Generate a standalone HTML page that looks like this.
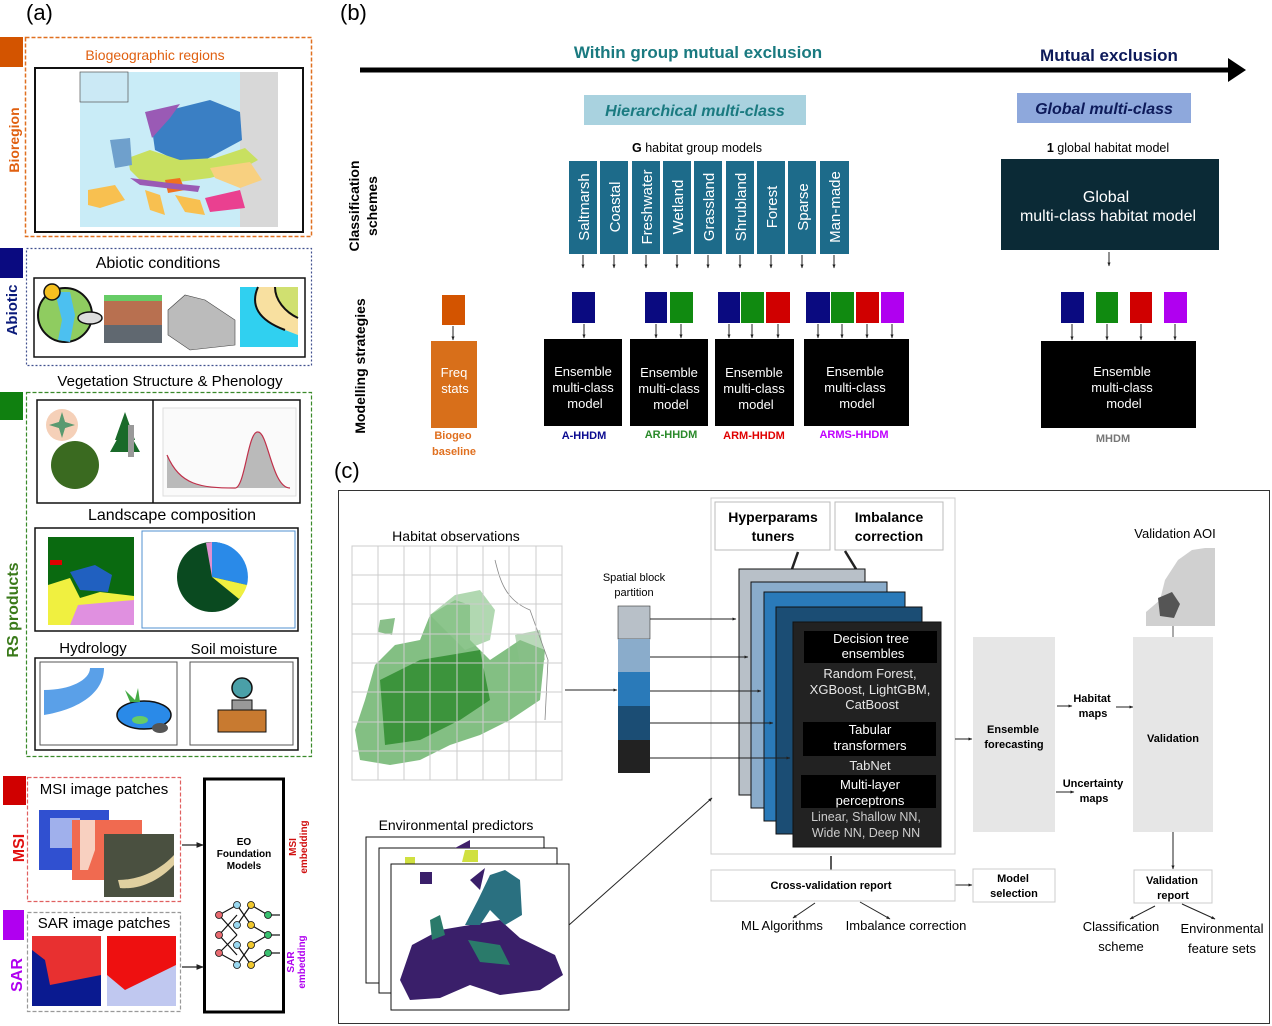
<!DOCTYPE html>
<html><head><meta charset="utf-8"><style>
html,body{margin:0;padding:0;background:#fff}
svg{display:block}
text{font-family:"Liberation Sans","DejaVu Sans",sans-serif}
</style></head><body>
<svg width="1272" height="1026" viewBox="0 0 1272 1026" xmlns="http://www.w3.org/2000/svg">
<defs>
<marker id="ar" viewBox="0 0 10 10" refX="9" refY="5" markerWidth="6" markerHeight="6" orient="auto"><path d="M0,1 L10,5 L0,9 z" fill="#222"/></marker>
<marker id="ar2" viewBox="0 0 10 10" refX="9" refY="5" markerWidth="4" markerHeight="4" orient="auto"><path d="M0,1 L10,5 L0,9 z" fill="#222"/></marker>
</defs>

<!-- ============ PANEL (a) ============ -->
<text x="26" y="20" font-size="22">(a)</text>
<rect x="0" y="37" width="23" height="30" fill="#d35400"/>
<rect x="25.5" y="37.5" width="286" height="199" fill="none" stroke="#e07020" stroke-width="1.5" stroke-dasharray="4,2"/>
<text x="155" y="60" font-size="14" fill="#e06010" text-anchor="middle">Biogeographic regions</text>
<rect x="35" y="68" width="268" height="164" fill="#fff" stroke="#111" stroke-width="2"/>
<rect x="80" y="72" width="198" height="155" fill="#c9ecf7"/>
<rect x="240" y="72" width="38" height="155" fill="#d8d8d8"/>
<rect x="80" y="72" width="48" height="30" fill="#cbe9f5" stroke="#555" stroke-width="0.7"/>
<path d="M150,115 L210,100 L240,112 L242,140 L205,160 L180,162 L155,150 Z" fill="#3a7fc4"/>
<path d="M145,112 L180,104 L170,118 L152,138 Z" fill="#9a5ab5"/>
<path d="M128,158 L150,150 L180,160 L215,158 L245,148 L258,160 L240,170 L210,178 L170,183 L140,180 L130,170 Z" fill="#c8e060"/>
<path d="M110,140 L130,138 L132,165 L115,168 Z" fill="#6fa0cc"/>
<path d="M210,168 L250,162 L262,180 L240,188 L215,178 Z" fill="#f8d080"/>
<path d="M165,180 L180,178 L185,190 L168,193 Z" fill="#f07020"/>
<path d="M205,198 L240,190 L245,208 L210,212 Z" fill="#ea4090"/>
<path d="M88,190 L115,185 L125,200 L100,208 L88,205 Z" fill="#f8c050"/>
<path d="M145,190 L160,195 L165,215 L150,210 Z" fill="#f8c050"/>
<path d="M175,195 L200,200 L205,215 L185,212 Z" fill="#f8c050"/>
<path d="M130,178 L170,183 L200,186 L198,192 L140,185 Z" fill="#9a5ab5"/>
<g transform="translate(19,140) rotate(-90)"><text font-size="14" font-weight="bold" fill="#e06010" text-anchor="middle">Bioregion</text></g>

<rect x="0" y="248" width="23" height="30" fill="#0a0a80"/>
<rect x="26.5" y="248.5" width="285" height="117" fill="none" stroke="#40508f" stroke-width="1.2" stroke-dasharray="2,2"/>
<text x="158" y="268" font-size="16" text-anchor="middle">Abiotic conditions</text>
<rect x="34" y="278" width="271" height="79" fill="#fff" stroke="#111" stroke-width="1.5"/>
<circle cx="65" cy="315" r="27" fill="#8fcc60" stroke="#111" stroke-width="2"/>
<path d="M55,292 L62,320 L58,340 L70,342 L75,315 L70,292 Z" fill="#4cc0f0"/>
<circle cx="52" cy="292" r="8" fill="#f5c020" stroke="#111" stroke-width="1.5"/>
<ellipse cx="90" cy="318" rx="12" ry="6" fill="#ddd" stroke="#111" stroke-width="1.5"/>
<rect x="104" y="295" width="58" height="48" fill="#b87050"/>
<rect x="104" y="295" width="58" height="6" fill="#6c6"/>
<rect x="104" y="325" width="58" height="18" fill="#606870"/>
<path d="M168,310 L185,295 L205,300 L235,320 L235,345 L190,350 L168,335 Z" fill="#bbb" stroke="#444" stroke-width="0.6"/>
<rect x="240" y="287" width="58" height="60" fill="#f8e0a0"/>
<path d="M240,287 L258,287 C250,305 258,320 285,330 L298,335 L298,347 L240,347 Z" fill="#30d0f0"/>
<path d="M275,287 L298,287 L298,318 C285,312 275,300 275,287 Z" fill="#d0e070"/>
<path d="M258,287 C250,305 258,320 285,330 M275,287 C275,300 285,312 298,318" stroke="#111" stroke-width="2" fill="none"/>
<g transform="translate(17,310) rotate(-90)"><text font-size="15" font-weight="bold" fill="#0a1a7a" text-anchor="middle">Abiotic</text></g>

<text x="170" y="386" font-size="15" text-anchor="middle">Vegetation Structure &amp; Phenology</text>
<rect x="0" y="392" width="23" height="28" fill="#108010"/>
<rect x="26.5" y="392.5" width="285" height="364" fill="none" stroke="#3a8a2a" stroke-width="1.2" stroke-dasharray="4,2"/>
<rect x="37" y="400" width="263" height="103" fill="#fff" stroke="#111" stroke-width="1.5"/>
<line x1="153" y1="400" x2="153" y2="503" stroke="#111" stroke-width="1.5"/>
<circle cx="62" cy="425" r="16" fill="#f5d0b8"/>
<path d="M62,412 L66,425 L62,438 L58,425 Z M49,425 L62,421 L75,425 L62,429 Z" fill="#5a9a70"/>
<circle cx="75" cy="465" r="24" fill="#3a6a20"/>
<path d="M115,440 L125,412 L135,440 Z M110,452 L125,425 L140,452 Z" fill="#1a6a2a"/>
<rect x="128" y="425" width="6" height="32" fill="#999"/>
<rect x="163" y="408" width="133" height="88" fill="#fafafa" stroke="#ddd"/>
<path d="M167,455 C180,485 200,488 235,488 C245,488 248,430 258,432 C268,432 272,488 290,488 L167,488 Z" fill="#aaa" opacity="0.8"/>
<path d="M167,455 C180,485 200,488 235,488 C245,488 248,430 258,432 C268,432 272,488 290,488" stroke="#c0304a" stroke-width="1.2" fill="none"/>
<text x="172" y="520" font-size="16" text-anchor="middle">Landscape composition</text>
<rect x="35" y="528" width="263" height="103" fill="#fff" stroke="#111" stroke-width="1.5"/>
<rect x="48" y="537" width="86" height="88" fill="#0a6a10"/>
<path d="M48,585 L70,578 L80,598 L100,592 L134,596 L134,625 L48,625 Z" fill="#f0f040"/>
<path d="M78,605 L134,600 L134,625 L70,625 Z" fill="#e090e0"/>
<path d="M70,572 L95,565 L112,575 L108,592 L80,590 Z" fill="#2060c0"/>
<rect x="50" y="560" width="12" height="5" fill="#e00000"/>
<rect x="142" y="531" width="153" height="97" fill="#fff" stroke="#5090d0"/>
<circle cx="212" cy="577" r="35" fill="#0a4a20"/>
<path d="M212,577 L212,542 A35,35 0 0 1 247,585 Z" fill="#2a8ae8"/>
<path d="M212,577 L247,585 A35,35 0 0 1 239,599 Z" fill="#f0f040"/>
<path d="M212,577 L212,542 A35,35 0 0 0 206,543 Z" fill="#e090d0"/>
<text x="93" y="653" font-size="15" text-anchor="middle">Hydrology</text>
<text x="234" y="654" font-size="15" text-anchor="middle">Soil moisture</text>
<rect x="35" y="658" width="263" height="92" fill="#fff" stroke="#111" stroke-width="1.5"/>
<rect x="40" y="662" width="137" height="83" fill="#fff" stroke="#555"/>
<rect x="190" y="662" width="103" height="83" fill="#fff" stroke="#555"/>
<path d="M44,690 C70,690 90,680 90,668 L104,668 C104,695 75,710 44,715 Z" fill="#5aa0e8"/>
<ellipse cx="144" cy="715" rx="27" ry="14" fill="#2a8ae8" stroke="#111" stroke-width="1.5"/>
<ellipse cx="140" cy="720" rx="8" ry="4" fill="#6c6"/>
<ellipse cx="160" cy="728" rx="8" ry="5" fill="#555"/>
<path d="M130,702 L125,690 L135,700 L138,688 L140,702 Z" fill="#4a4"/>
<circle cx="242" cy="688" r="10" fill="#4aa0a8" stroke="#111" stroke-width="1.5"/>
<rect x="232" y="700" width="20" height="12" fill="#999" stroke="#111"/>
<rect x="218" y="710" width="48" height="22" fill="#c87a30" stroke="#111"/>
<g transform="translate(18,610) rotate(-90)"><text font-size="16" font-weight="bold" fill="#3a7a1a" text-anchor="middle">RS products</text></g>

<rect x="3" y="776" width="23" height="29" fill="#d00000"/>
<rect x="27.5" y="777.5" width="153" height="124" fill="none" stroke="#e06060" stroke-width="1.2" stroke-dasharray="4,2"/>
<text x="104" y="794" font-size="15" text-anchor="middle">MSI image patches</text>
<rect x="39" y="810" width="70" height="60" fill="#3050d0"/>
<rect x="50" y="818" width="30" height="30" fill="#d0d8f8" opacity="0.7"/>
<rect x="72" y="820" width="70" height="60" fill="#f06a50"/>
<path d="M80,820 L95,820 L95,850 L88,870 L80,870 Z" fill="#f8d0c0"/>
<rect x="104" y="834" width="70" height="63" fill="#4a5040"/>
<path d="M118,880 C140,880 160,870 174,855 L174,865 C160,880 140,890 120,888 Z" fill="#e0d0a0"/>
<g transform="translate(24,848) rotate(-90)"><text font-size="16" font-weight="bold" fill="#e01010" text-anchor="middle">MSI</text></g>

<rect x="3" y="910" width="21" height="30" fill="#b000f0"/>
<rect x="27.5" y="912.5" width="153" height="99" fill="none" stroke="#999" stroke-width="1.2" stroke-dasharray="4,2"/>
<text x="104" y="928" font-size="15" text-anchor="middle">SAR image patches</text>
<rect x="32" y="936" width="69" height="70" fill="#e83030"/>
<path d="M32,950 L45,960 L50,985 L101,975 L101,1006 L32,1006 Z" fill="#0a1a90"/>
<rect x="107" y="936" width="69" height="70" fill="#ee1010"/>
<path d="M107,975 L125,990 L176,965 L176,1006 L107,1006 Z" fill="#c0c8f0"/>
<g transform="translate(22,975) rotate(-90)"><text font-size="16" font-weight="bold" fill="#b000f0" text-anchor="middle">SAR</text></g>

<rect x="204.5" y="779" width="79" height="233" fill="#fff" stroke="#000" stroke-width="3"/>
<text x="244" y="845" font-size="10" font-weight="bold" text-anchor="middle">EO</text>
<text x="244" y="857" font-size="10" font-weight="bold" text-anchor="middle">Foundation</text>
<text x="244" y="869" font-size="10" font-weight="bold" text-anchor="middle">Models</text>
<g stroke="#111" stroke-width="1.2">
<line x1="219" y1="915" x2="237" y2="905"/><line x1="219" y1="915" x2="237" y2="935"/><line x1="219" y1="935" x2="237" y2="915"/><line x1="219" y1="935" x2="237" y2="955"/><line x1="219" y1="953" x2="237" y2="935"/><line x1="219" y1="953" x2="237" y2="963"/>
<line x1="237" y1="905" x2="251" y2="925"/><line x1="237" y1="925" x2="251" y2="905"/><line x1="237" y1="945" x2="251" y2="965"/><line x1="237" y1="965" x2="251" y2="945"/>
<line x1="251" y1="905" x2="268" y2="915"/><line x1="251" y1="925" x2="268" y2="935"/><line x1="251" y1="945" x2="268" y2="935"/><line x1="251" y1="965" x2="268" y2="953"/>
<line x1="268" y1="915" x2="280" y2="915"/><line x1="268" y1="935" x2="280" y2="935"/><line x1="268" y1="953" x2="280" y2="953"/>
</g>
<g stroke="#111" stroke-width="0.8">
<circle cx="219" cy="915" r="3.5" fill="#e86a70"/><circle cx="219" cy="935" r="3.5" fill="#e86a70"/><circle cx="219" cy="953" r="3.5" fill="#e86a70"/>
<circle cx="237" cy="905" r="3.5" fill="#9ad8f0"/><circle cx="237" cy="925" r="3.5" fill="#9ad8f0"/><circle cx="237" cy="945" r="3.5" fill="#9ad8f0"/><circle cx="237" cy="965" r="3.5" fill="#9ad8f0"/>
<circle cx="251" cy="905" r="3.5" fill="#f0c830"/><circle cx="251" cy="925" r="3.5" fill="#f0c830"/><circle cx="251" cy="945" r="3.5" fill="#f0c830"/><circle cx="251" cy="965" r="3.5" fill="#f0c830"/>
<circle cx="268" cy="915" r="3.5" fill="#3ac070"/><circle cx="268" cy="935" r="3.5" fill="#3ac070"/><circle cx="268" cy="953" r="3.5" fill="#3ac070"/>
</g>
<line x1="182" y1="845" x2="203" y2="845" stroke="#222" stroke-width="1.2" marker-end="url(#ar)"/>
<line x1="182" y1="967" x2="203" y2="967" stroke="#222" stroke-width="1.2" marker-end="url(#ar)"/>
<g transform="translate(296,847) rotate(-90)" fill="#d01010" font-size="10" font-weight="bold" text-anchor="middle"><text>MSI</text><text y="11">embedding</text></g>
<g transform="translate(294,962) rotate(-90)" fill="#b000f0" font-size="10" font-weight="bold" text-anchor="middle"><text>SAR</text><text y="11">embedding</text></g>

<!-- ============ PANEL (b) ============ -->
<text x="340" y="20" font-size="22">(b)</text>
<line x1="360" y1="70" x2="1232" y2="70" stroke="#000" stroke-width="5"/>
<path d="M1228,58 L1246,70 L1228,82 Z" fill="#000"/>
<text x="698" y="58" font-size="17" font-weight="bold" fill="#1a7a80" text-anchor="middle">Within group mutual exclusion</text>
<text x="1109" y="61" font-size="17" font-weight="bold" fill="#0d1a5a" text-anchor="middle">Mutual exclusion</text>
<rect x="584" y="95" width="222" height="30" fill="#a9d2df"/>
<text x="695" y="116" font-size="16" font-weight="bold" font-style="italic" fill="#1a7a80" text-anchor="middle">Hierarchical multi-class</text>
<rect x="1017" y="93" width="174" height="30" fill="#8ea8dc"/>
<text x="1104" y="114" font-size="16" font-weight="bold" font-style="italic" fill="#0d1a5a" text-anchor="middle">Global multi-class</text>
<g transform="translate(359,206) rotate(-90)" font-size="14" font-weight="bold" text-anchor="middle"><text>Classification</text><text y="18">schemes</text></g>
<g transform="translate(365,366) rotate(-90)" font-size="14" font-weight="bold" text-anchor="middle"><text>Modelling strategies</text></g>
<text x="697" y="152" font-size="12.5" text-anchor="middle"><tspan font-weight="bold">G</tspan> habitat group models</text>
<g fill="#1d6b8a">
<rect x="569" y="161" width="28" height="93"/><rect x="600" y="161" width="28" height="93"/><rect x="632" y="161" width="28" height="93"/><rect x="663" y="161" width="28" height="93"/><rect x="694" y="161" width="28" height="93"/><rect x="726" y="161" width="28" height="93"/><rect x="757" y="161" width="28" height="93"/><rect x="788" y="161" width="28" height="93"/><rect x="820" y="161" width="29" height="93"/>
</g>
<g fill="#fff" font-size="15" text-anchor="middle">
<text transform="translate(589,207) rotate(-90)">Saltmarsh</text>
<text transform="translate(620,207) rotate(-90)">Coastal</text>
<text transform="translate(652,207) rotate(-90)">Freshwater</text>
<text transform="translate(683,207) rotate(-90)">Wetland</text>
<text transform="translate(714,207) rotate(-90)">Grassland</text>
<text transform="translate(746,207) rotate(-90)">Shrubland</text>
<text transform="translate(777,207) rotate(-90)">Forest</text>
<text transform="translate(808,207) rotate(-90)">Sparse</text>
<text transform="translate(840,207) rotate(-90)">Man-made</text>
</g>
<g stroke="#222" stroke-width="1" marker-end="url(#ar2)">
<line x1="583" y1="255" x2="583" y2="268"/><line x1="614" y1="255" x2="614" y2="268"/><line x1="646" y1="255" x2="646" y2="268"/><line x1="677" y1="255" x2="677" y2="268"/><line x1="708" y1="255" x2="708" y2="268"/><line x1="740" y1="255" x2="740" y2="268"/><line x1="771" y1="255" x2="771" y2="268"/><line x1="802" y1="255" x2="802" y2="268"/><line x1="834" y1="255" x2="834" y2="268"/>
</g>
<!-- squares -->
<g>
<rect x="572" y="292" width="23" height="31" fill="#0a0a80"/>
<rect x="645" y="292" width="22" height="31" fill="#0a0a80"/><rect x="670" y="292" width="23" height="31" fill="#108a10"/>
<rect x="718" y="292" width="22" height="31" fill="#0a0a80"/><rect x="741" y="292" width="23" height="31" fill="#108a10"/><rect x="766" y="292" width="24" height="31" fill="#d00000"/>
<rect x="806" y="292" width="24" height="31" fill="#0a0a80"/><rect x="831" y="292" width="23" height="31" fill="#108a10"/><rect x="856" y="292" width="23" height="31" fill="#d00000"/><rect x="881" y="292" width="23" height="31" fill="#b000f0"/>
<rect x="1061" y="292" width="23" height="31" fill="#0a0a80"/><rect x="1096" y="292" width="22" height="31" fill="#108a10"/><rect x="1130" y="292" width="22" height="31" fill="#d00000"/><rect x="1164" y="292" width="23" height="31" fill="#b000f0"/>
</g>
<g stroke="#222" stroke-width="1" marker-end="url(#ar2)">
<line x1="584" y1="324" x2="584" y2="338"/>
<line x1="656" y1="324" x2="656" y2="338"/><line x1="681" y1="324" x2="681" y2="338"/>
<line x1="729" y1="324" x2="729" y2="338"/><line x1="752" y1="324" x2="752" y2="338"/><line x1="778" y1="324" x2="778" y2="338"/>
<line x1="818" y1="324" x2="818" y2="338"/><line x1="842" y1="324" x2="842" y2="338"/><line x1="867" y1="324" x2="867" y2="338"/><line x1="892" y1="324" x2="892" y2="338"/>
<line x1="1072" y1="324" x2="1072" y2="340"/><line x1="1107" y1="324" x2="1107" y2="340"/><line x1="1141" y1="324" x2="1141" y2="340"/><line x1="1175" y1="324" x2="1175" y2="340"/>
<line x1="453" y1="326" x2="453" y2="340"/>
<line x1="1109" y1="252" x2="1109" y2="266"/>
</g>
<g fill="#000">
<rect x="544" y="339" width="78" height="87"/><rect x="630" y="339" width="78" height="87"/><rect x="715" y="339" width="79" height="87"/><rect x="804" y="339" width="105" height="87"/>
<rect x="1041" y="341" width="155" height="87"/>
</g>
<g fill="#fff" font-size="13" text-anchor="middle">
<text x="583" y="376">Ensemble</text><text x="583" y="392">multi-class</text><text x="585" y="408">model</text>
<text x="669" y="377">Ensemble</text><text x="669" y="393">multi-class</text><text x="671" y="409">model</text>
<text x="754" y="377">Ensemble</text><text x="754" y="393">multi-class</text><text x="756" y="409">model</text>
<text x="855" y="376">Ensemble</text><text x="855" y="392">multi-class</text><text x="857" y="408">model</text>
<text x="1122" y="376">Ensemble</text><text x="1122" y="392">multi-class</text><text x="1124" y="408">model</text>
</g>
<g font-size="11" font-weight="bold" text-anchor="middle">
<text x="584" y="439" fill="#0a0a90">A-HHDM</text>
<text x="671" y="438" fill="#2a8a2a">AR-HHDM</text>
<text x="754" y="439" fill="#e00000">ARM-HHDM</text>
<text x="854" y="438" fill="#c000ff">ARMS-HHDM</text>
<text x="1113" y="442" fill="#777">MHDM</text>
</g>
<rect x="442" y="295" width="23" height="30" fill="#d35400"/>
<rect x="431" y="341" width="46" height="87" fill="#d86f1a"/>
<text x="454" y="377" font-size="13" fill="#fff" text-anchor="middle">Freq</text>
<text x="455" y="393" font-size="13" fill="#fff" text-anchor="middle">stats</text>
<text x="453" y="439" font-size="11" font-weight="bold" fill="#e07020" text-anchor="middle">Biogeo</text>
<text x="454" y="455" font-size="11" font-weight="bold" fill="#e07020" text-anchor="middle">baseline</text>
<text x="1108" y="152" font-size="12.5" text-anchor="middle"><tspan font-weight="bold">1</tspan> global habitat model</text>
<rect x="1001" y="159" width="218" height="91" fill="#0b2a36"/>
<text x="1106" y="202" font-size="16" fill="#fff" text-anchor="middle">Global</text>
<text x="1108" y="221" font-size="16" fill="#fff" text-anchor="middle">multi-class habitat model</text>

<!-- ============ PANEL (c) ============ -->
<text x="334" y="478" font-size="22">(c)</text>
<rect x="338.5" y="490.5" width="931" height="533" fill="none" stroke="#333" stroke-width="1"/>
<text x="456" y="541" font-size="14" text-anchor="middle">Habitat observations</text>
<g>
<path d="M365,700 L375,665 L395,645 L420,640 L430,615 L455,600 L470,605 L470,640 L490,660 L520,640 L545,650 L540,700 L510,720 L480,735 L450,745 L420,760 L390,765 L360,760 L355,730 Z" fill="#5aaa5a" opacity="0.75"/>
<path d="M380,680 L420,660 L480,650 L490,700 L460,720 L420,740 L385,745 Z" fill="#2a8a2a" opacity="0.8"/>
<path d="M430,615 L455,595 L480,590 L495,610 L490,640 L465,650 Z" fill="#90c890" opacity="0.7"/>
<path d="M515,635 L540,630 L545,660 L520,665 Z" fill="#8ac08a" opacity="0.6"/>
<path d="M380,620 L395,618 L392,635 L378,632 Z" fill="#8ac08a"/>
<path d="M495,560 C500,580 505,600 530,610 L548,660 L545,720" stroke="#888" fill="none" stroke-width="0.8"/>
</g>
<g stroke="#ccc" stroke-width="1" fill="none">
<rect x="352" y="546" width="210" height="234"/>
<line x1="378" y1="546" x2="378" y2="780"/><line x1="404" y1="546" x2="404" y2="780"/><line x1="430" y1="546" x2="430" y2="780"/><line x1="457" y1="546" x2="457" y2="780"/><line x1="483" y1="546" x2="483" y2="780"/><line x1="509" y1="546" x2="509" y2="780"/><line x1="536" y1="546" x2="536" y2="780"/>
<line x1="352" y1="575" x2="562" y2="575"/><line x1="352" y1="604" x2="562" y2="604"/><line x1="352" y1="634" x2="562" y2="634"/><line x1="352" y1="663" x2="562" y2="663"/><line x1="352" y1="692" x2="562" y2="692"/><line x1="352" y1="722" x2="562" y2="722"/><line x1="352" y1="751" x2="562" y2="751"/>
</g>
<line x1="565" y1="690" x2="617" y2="690" stroke="#222" stroke-width="1" marker-end="url(#ar2)"/>
<text x="634" y="581" font-size="11" text-anchor="middle">Spatial block</text>
<text x="634" y="596" font-size="11" text-anchor="middle">partition</text>
<rect x="618" y="606" width="32" height="33" fill="#b8c0c8" stroke="#333" stroke-width="0.6"/>
<rect x="618" y="639" width="32" height="33" fill="#8aaccb"/>
<rect x="618" y="672" width="32" height="34" fill="#2a7ab9"/>
<rect x="618" y="706" width="32" height="34" fill="#1b4d74"/>
<rect x="618" y="740" width="32" height="33" fill="#222"/>
<rect x="711" y="498" width="244" height="356" fill="#fff" stroke="#ccc"/>
<rect x="715" y="502" width="115" height="48" fill="#fff" stroke="#bbb"/>
<rect x="835" y="502" width="108" height="48" fill="#fff" stroke="#bbb"/>
<text x="773" y="522" font-size="14" font-weight="bold" text-anchor="middle">Hyperparams</text>
<text x="773" y="541" font-size="14" font-weight="bold" text-anchor="middle">tuners</text>
<text x="889" y="522" font-size="14" font-weight="bold" text-anchor="middle">Imbalance</text>
<text x="889" y="541" font-size="14" font-weight="bold" text-anchor="middle">correction</text>
<line x1="798" y1="552" x2="792" y2="569" stroke="#222" stroke-width="2.5"/>
<line x1="845" y1="551" x2="856" y2="569" stroke="#222" stroke-width="2.5"/>
<rect x="739" y="569" width="126" height="226" fill="#b8c0c8" stroke="#111"/>
<rect x="751" y="582" width="136" height="226" fill="#8aaccb" stroke="#111"/>
<rect x="764" y="592" width="141" height="229" fill="#2a7ab9" stroke="#111"/>
<rect x="776" y="607" width="146" height="227" fill="#1b4d74" stroke="#111"/>
<rect x="793" y="622" width="148" height="225" fill="#222" stroke="#111"/>
<rect x="804" y="631" width="133" height="32" fill="#000"/>
<rect x="803" y="722" width="133" height="34" fill="#000"/>
<rect x="801" y="775" width="135" height="33" fill="#000"/>
<g fill="#fff" font-size="13" text-anchor="middle">
<text x="871" y="643">Decision tree</text><text x="873" y="658">ensembles</text>
<text x="870" y="678" fill="#e6e6e6">Random Forest,</text><text x="870" y="694" fill="#e6e6e6">XGBoost, LightGBM,</text><text x="872" y="709" fill="#e6e6e6">CatBoost</text>
<text x="870" y="734">Tabular</text><text x="870" y="750">transformers</text>
<text x="870" y="770" fill="#e6e6e6">TabNet</text>
<text x="870" y="789">Multi-layer</text><text x="870" y="805">perceptrons</text>
<text x="866" y="821" fill="#ccc" font-size="12.5">Linear, Shallow NN,</text><text x="866" y="837" fill="#ccc" font-size="12.5">Wide NN, Deep NN</text>
</g>
<g stroke="#222" stroke-width="1" marker-end="url(#ar2)" fill="none">
<line x1="650" y1="619" x2="736" y2="619"/>
<line x1="650" y1="657" x2="748" y2="657"/>
<line x1="650" y1="691" x2="761" y2="691"/>
<line x1="650" y1="723" x2="773" y2="723"/>
<line x1="650" y1="758" x2="790" y2="758"/>
<line x1="569" y1="925" x2="712" y2="798"/>
<line x1="955" y1="739" x2="972" y2="739"/>
<line x1="1057" y1="706" x2="1072" y2="706"/>
<line x1="1116" y1="707" x2="1133" y2="707"/>
<line x1="1056" y1="792" x2="1074" y2="792"/>
<line x1="1173" y1="832" x2="1173" y2="869"/>
<line x1="955" y1="885" x2="972" y2="885"/>
<line x1="815" y1="903" x2="793" y2="918"/>
<line x1="860" y1="902" x2="890" y2="919"/>
<line x1="1155" y1="906" x2="1130" y2="919"/>
<line x1="1182" y1="904" x2="1215" y2="919"/>
</g>
<line x1="831" y1="856" x2="831" y2="870" stroke="#222" stroke-width="1.5"/>
<line x1="1173" y1="626" x2="1173" y2="637" stroke="#555" stroke-width="1"/>
<rect x="973" y="637" width="82" height="195" fill="#e6e6e6"/>
<text x="1013" y="733" font-size="11" font-weight="bold" text-anchor="middle">Ensemble</text>
<text x="1014" y="748" font-size="11" font-weight="bold" text-anchor="middle">forecasting</text>
<text x="1092" y="702" font-size="11" font-weight="bold" text-anchor="middle">Habitat</text>
<text x="1093" y="717" font-size="11" font-weight="bold" text-anchor="middle">maps</text>
<text x="1093" y="787" font-size="11" font-weight="bold" text-anchor="middle">Uncertainty</text>
<text x="1094" y="802" font-size="11" font-weight="bold" text-anchor="middle">maps</text>
<rect x="1133" y="637" width="80" height="195" fill="#e6e6e6"/>
<text x="1173" y="742" font-size="11" font-weight="bold" text-anchor="middle">Validation</text>
<text x="1175" y="538" font-size="13" text-anchor="middle">Validation AOI</text>
<path d="M1160,600 L1165,580 L1178,560 L1192,550 L1205,548 L1215,548 L1215,626 L1146,626 L1146,612 Z" fill="#d0d0d0"/>
<path d="M1158,598 L1172,592 L1180,604 L1174,618 L1160,616 Z" fill="#555"/>
<rect x="1134" y="870" width="78" height="33" fill="#fff" stroke="#ccc"/>
<text x="1172" y="884" font-size="11" font-weight="bold" text-anchor="middle">Validation</text>
<text x="1173" y="899" font-size="11" font-weight="bold" text-anchor="middle">report</text>
<text x="1121" y="931" font-size="13" text-anchor="middle">Classification</text>
<text x="1121" y="951" font-size="13" text-anchor="middle">scheme</text>
<text x="1222" y="933" font-size="13" text-anchor="middle">Environmental</text>
<text x="1222" y="953" font-size="13" text-anchor="middle">feature sets</text>
<rect x="711" y="870" width="244" height="31" fill="#fff" stroke="#ccc"/>
<text x="831" y="889" font-size="11" font-weight="bold" text-anchor="middle">Cross-validation report</text>
<rect x="973" y="869" width="82" height="33" fill="#fff" stroke="#ccc"/>
<text x="1013" y="882" font-size="11" font-weight="bold" text-anchor="middle">Model</text>
<text x="1014" y="897" font-size="11" font-weight="bold" text-anchor="middle">selection</text>
<text x="782" y="930" font-size="13" text-anchor="middle">ML Algorithms</text>
<text x="906" y="930" font-size="13" text-anchor="middle">Imbalance correction</text>
<text x="456" y="830" font-size="14" text-anchor="middle">Environmental predictors</text>
<rect x="366" y="837" width="178" height="146" fill="#fff" stroke="#111"/>
<rect x="379" y="848" width="178" height="145" fill="#fff" stroke="#111"/>
<path d="M455,848 L470,840 L470,848 Z" fill="#40206a"/>
<path d="M465,850 L478,850 L478,862 L462,862 Z M405,857 L415,857 L415,864 L405,864 Z" fill="#d0e040"/>
<rect x="391" y="864" width="178" height="146" fill="#fff" stroke="#111"/>
<path d="M412,945 L440,930 L470,925 L500,920 L520,938 L555,955 L563,975 L540,990 L500,995 L470,985 L440,998 L410,1000 L400,980 Z" fill="#3a1f6a"/>
<path d="M465,925 L478,900 L490,875 L505,870 L520,880 L522,915 L505,925 L490,910 L480,925 Z" fill="#2a7080"/>
<path d="M430,920 L440,915 L445,935 L432,940 Z M468,940 L500,945 L510,965 L480,962 Z" fill="#2a7a6a"/>
<path d="M470,880 L485,868 L480,890 Z" fill="#3a1f6a"/>
<path d="M420,872 L432,872 L432,884 L420,884 Z" fill="#3a1f6a"/>
</svg>
</body></html>
